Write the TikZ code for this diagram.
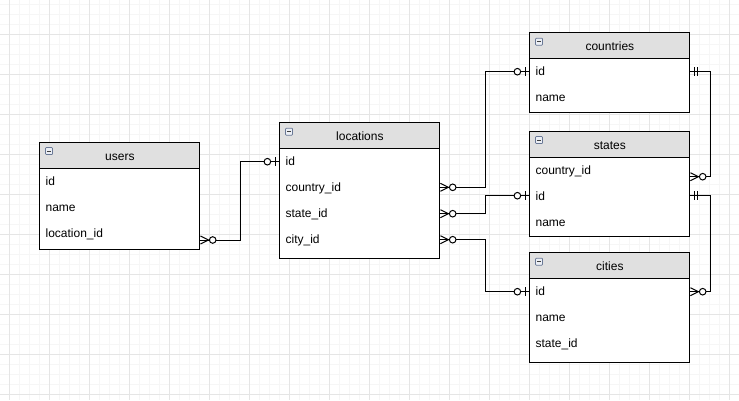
\documentclass[tikz,border=0pt]{standalone}
\usepackage{fontspec}
\setmainfont{Liberation Sans}
\usetikzlibrary{calc}
\definecolor{gridmajor}{RGB}{229,229,229}
\definecolor{gridminor}{RGB}{246,246,246}
\definecolor{headfill}{RGB}{224,224,224}
\definecolor{iconedge}{RGB}{105,120,150}
\definecolor{iconfill}{RGB}{236,239,245}
\tikzset{
  tbox/.style={draw=black, line width=1pt, fill=white, minimum width=160pt, inner sep=0pt, rectangle},
  hbox/.style={draw=black, line width=1pt, fill=headfill, minimum width=160pt, minimum height=26pt, inner sep=0pt, rectangle},
  titletext/.style={font=\fontsize{12}{14}\selectfont, anchor=base, inner sep=0pt},
  fieldtext/.style={font=\fontsize{12}{14}\selectfont, anchor=base west, inner sep=0pt},
  iconbox/.style={draw=iconedge, fill=iconfill, line width=0.7pt, minimum size=7pt, inner sep=0pt, rectangle, rounded corners=0.8pt},
  iconminus/.style={draw=black!75, line width=1pt},
  conn/.style={draw=black, line width=1pt},
  zmany/.pic={\draw[line width=1pt] (0,-4) -- (8,0) -- (0,4);
              \draw[line width=1pt] (0,0) -- (9,0);
              \draw[line width=1pt, fill=white] (12.3,0) circle[radius=3.3pt];},
  zone/.pic={\draw[line width=1pt] (3.7,-4.5) -- (3.7,4.5);
             \draw[line width=1pt, fill=white] (12,0) circle[radius=3.3pt];},
  mone/.pic={\draw[line width=1pt] (4,-4.5) -- (4,4.5) (7.5,-4.5) -- (7.5,4.5);},
}
\newcommand\ertable[5]{%
  \node[tbox, minimum height=#4pt, anchor=north west] (#1) at (#2,#3) {};
  \node[hbox, anchor=north west] (#1-head) at (#2,#3) {};
  \node[titletext] (#1-title) at ($(#1.north)+(0,18.3)$) {#5};
  \node[iconbox, anchor=north west] (#1-icon) at ($(#1.north west)+(5.8,5.5)$) {};
  \draw[iconminus] ($(#1-icon.center)+(-2.2,0)$) -- ($(#1-icon.center)+(2.2,0)$);
}
\newcommand\erfield[3]{%
  \node[fieldtext] (#1-f#2) at ($(#1.north west)+(6,43.4+26*#2-26)$) {#3};
}
\begin{document}
\begin{tikzpicture}[x=1pt, y=-1pt]
\useasboundingbox (0,0) rectangle (739,400);
\fill[white] (0,0) rectangle (739,400);
% grid
\foreach \gx in {-0.7,9.3,...,740} \draw[gridminor, line width=0.8pt] (\gx,0) -- (\gx,400);
\foreach \gy in {4.7,14.7,...,401} \draw[gridminor, line width=0.8pt] (0,\gy) -- (739,\gy);
\foreach \gx in {9.3,49.3,...,740} \draw[gridmajor, line width=0.9pt] (\gx,0) -- (\gx,400);
\foreach \gy in {34.7,74.7,...,401} \draw[gridmajor, line width=0.9pt] (0,\gy) -- (739,\gy);

% tables
\ertable{users}{39.4}{141.7}{107.3}{users}
\erfield{users}{1}{id}
\erfield{users}{2}{name}
\erfield{users}{3}{location\_id}

\ertable{locations}{279.4}{122.3}{136}{locations}
\erfield{locations}{1}{id}
\erfield{locations}{2}{country\_id}
\erfield{locations}{3}{state\_id}
\erfield{locations}{4}{city\_id}

\ertable{countries}{529.4}{32.3}{80}{countries}
\erfield{countries}{1}{id}
\erfield{countries}{2}{name}

\ertable{states}{529.4}{130.7}{105.3}{states}
\erfield{states}{1}{country\_id}
\erfield{states}{2}{id}
\erfield{states}{3}{name}

\ertable{cities}{529.4}{252.3}{110}{cities}
\erfield{cities}{1}{id}
\erfield{cities}{2}{name}
\erfield{cities}{3}{state\_id}

% connector ends
\coordinate (u-out) at ($(users.north east)+(0,98.3)$);
\coordinate (l-in) at ($(locations.north west)+(0,39.4)$);
\coordinate (l-country) at ($(locations.north east)+(0,65)$);
\coordinate (l-state) at ($(locations.north east)+(0,91.4)$);
\coordinate (l-city) at ($(locations.north east)+(0,117.4)$);
\coordinate (co-in) at ($(countries.north west)+(0,39.4)$);
\coordinate (co-out) at ($(countries.north east)+(0,39.4)$);
\coordinate (s-in) at ($(states.north west)+(0,65)$);
\coordinate (s-fk) at ($(states.north east)+(0,46)$);
\coordinate (s-out) at ($(states.north east)+(0,65)$);
\coordinate (ci-in) at ($(cities.north west)+(0,39.4)$);
\coordinate (ci-fk) at ($(cities.north east)+(0,39.4)$);

% connectors
\draw[conn] (u-out) -- ++(40,0) |- (l-in);
\draw[conn] (l-country) -- ++(45,0) |- (co-in);
\draw[conn] (l-state) -- ++(45,0) |- (s-in);
\draw[conn] (l-city) -- ++(45,0) |- (ci-in);
\draw[conn] (co-out) -- ++(19.7,0) |- (s-fk);
\draw[conn] (s-out) -- ++(19.7,0) |- (ci-fk);

% end markers
\pic at (u-out) {zmany};
\pic[xscale=-1] at (l-in) {zone};
\pic at (l-country) {zmany};
\pic at (l-state) {zmany};
\pic at (l-city) {zmany};
\pic[xscale=-1] at (co-in) {zone};
\pic[xscale=-1] at (s-in) {zone};
\pic[xscale=-1] at (ci-in) {zone};
\pic at (co-out) {mone};
\pic at (s-fk) {zmany};
\pic at (s-out) {mone};
\pic at (ci-fk) {zmany};
\end{tikzpicture}
\end{document}
